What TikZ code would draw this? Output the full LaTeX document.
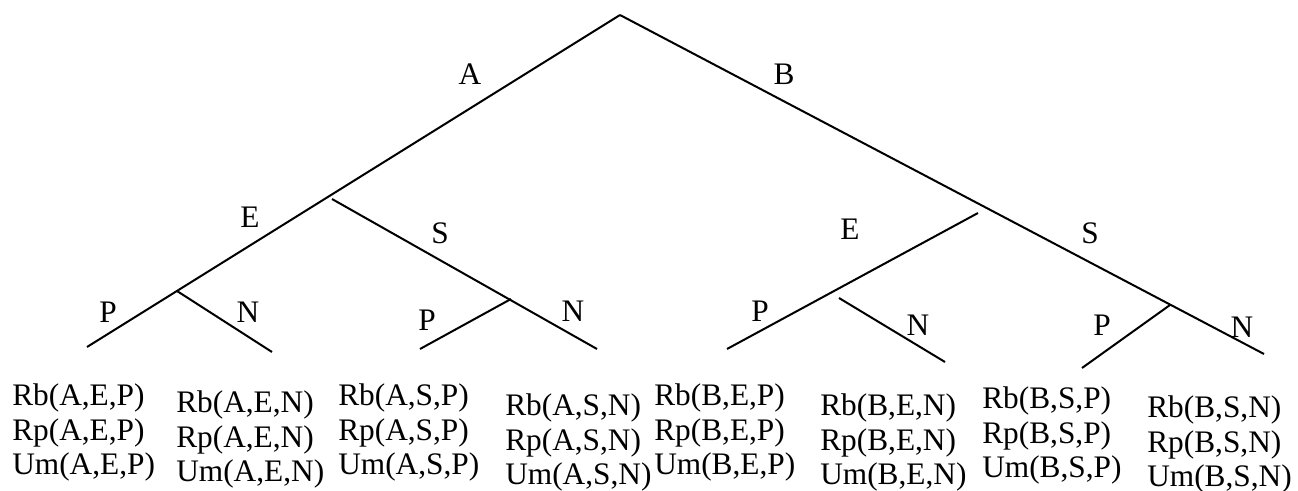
\documentclass[tikz,border=0pt]{standalone}
\usepackage{fontspec}
\setmainfont{Liberation Serif}
\begin{document}
\begin{tikzpicture}[x=0.75pt,y=-0.75pt,
  branch/.style={line width=1.5pt},
  lbl/.style={font=\fontsize{23.5}{28}\selectfont, inner sep=0pt, anchor=base},
  payoff/.style={font=\fontsize{23.5}{28}\selectfont, inner sep=0pt, anchor=base west}]
\useasboundingbox (0,0) rectangle (1298,491);

% tree points
\coordinate (root) at (620,15);
\coordinate (aEnd) at (87,347);
\coordinate (aenJ) at (177,291);
\coordinate (aenEnd) at (272,352);
\coordinate (asStart) at (332,199);
\coordinate (asEnd) at (597,349);
\coordinate (aspJ) at (511,299);
\coordinate (aspEnd) at (420,349);
\coordinate (bEnd) at (1264,354);
\coordinate (beStart) at (978,213);
\coordinate (beEnd) at (727,349);
\coordinate (benStart) at (839,298);
\coordinate (benEnd) at (945,362);
\coordinate (bspJ) at (1170,305);
\coordinate (bspEnd) at (1082,368);

% branches
\draw[branch] (root) -- (aEnd);
\draw[branch] (root) -- (bEnd);
\draw[branch] (aenJ) -- (aenEnd);
\draw[branch] (asStart) -- (asEnd);
\draw[branch] (aspJ) -- (aspEnd);
\draw[branch] (beStart) -- (beEnd);
\draw[branch] (benStart) -- (benEnd);
\draw[branch] (bspJ) -- (bspEnd);

% branch labels
\node[lbl] (lA) at (470,85) {A};
\node[lbl] (lB) at (784,85) {B};
\node[lbl] (lAE) at (250,228) {E};
\node[lbl] (lAS) at (440,244) {S};
\node[lbl] (lBE) at (850,240) {E};
\node[lbl] (lBS) at (1090,244) {S};
\node[lbl] (lAEP) at (108,323) {P};
\node[lbl] (lAEN) at (248,323) {N};
\node[lbl] (lASP) at (427,330) {P};
\node[lbl] (lASN) at (573,322) {N};
\node[lbl] (lBEP) at (760,322) {P};
\node[lbl] (lBEN) at (918,335) {N};
\node[lbl] (lBSP) at (1102,335) {P};
\node[lbl] (lBSN) at (1242,338) {N};

% payoffs at the leaves
\foreach \i/\x/\y/\t in {1/12/405/{A,E,P}, 2/176/412/{A,E,N}, 3/338/405/{A,S,P},
    4/505/415/{A,S,N}, 5/654/405/{B,E,P}, 6/820/415/{B,E,N},
    7/982/408/{B,S,P}, 8/1147/417/{B,S,N}}{
  \node[payoff] (rb\i) at (\x,\y) {Rb(\t)};
  \node[payoff] (rp\i) at (\x,\y+35) {Rp(\t)};
  \node[payoff] (um\i) at (\x,\y+69) {Um(\t)};
}
\end{tikzpicture}
\end{document}
